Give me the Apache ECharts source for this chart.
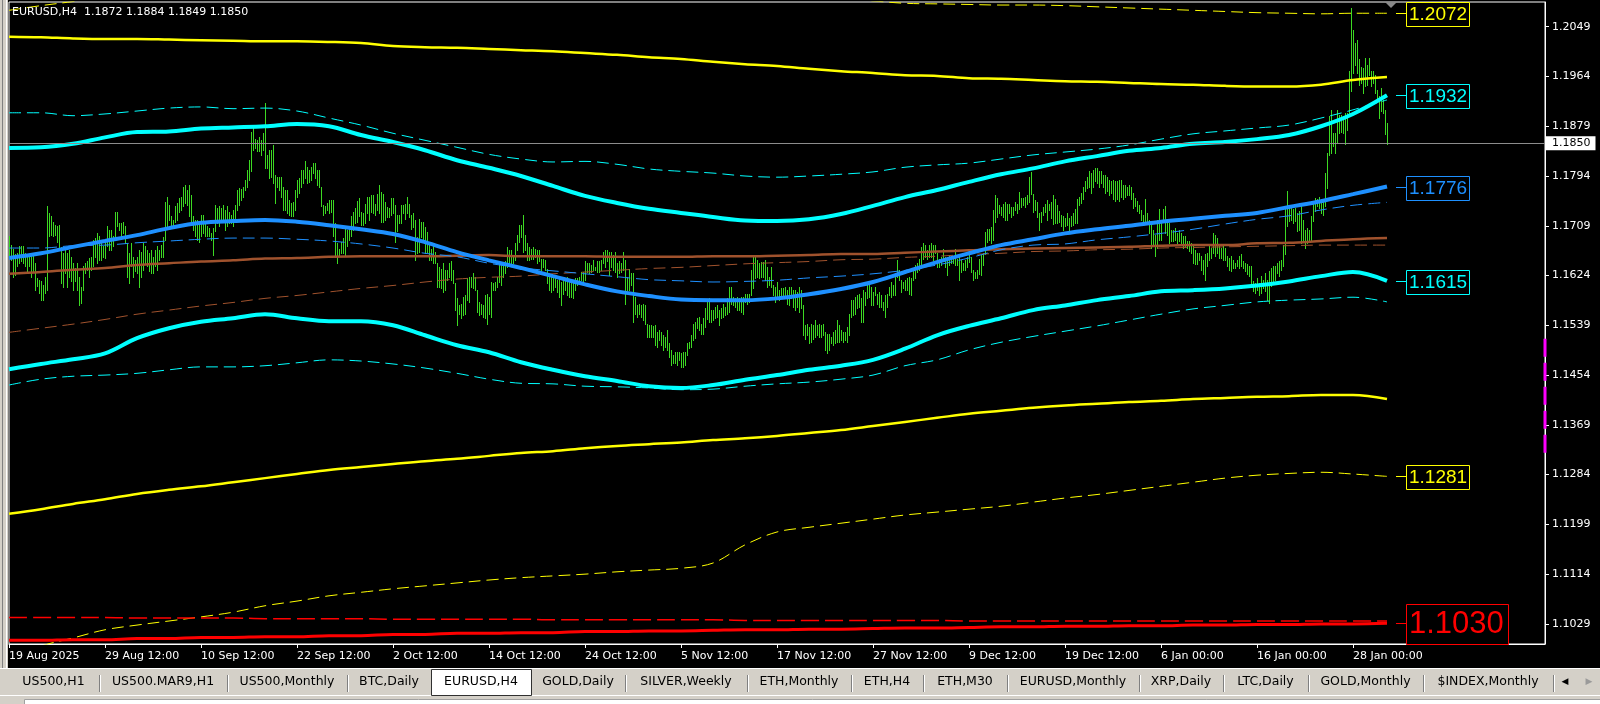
<!DOCTYPE html>
<html><head><meta charset="utf-8">
<script src="https://cdn.jsdelivr.net/npm/echarts@6.0.0/dist/echarts.min.js"></script>
<style>html,body{margin:0;padding:0;background:#000;overflow:hidden}#c{width:1600px;height:704px}</style>
</head><body><div id="c"></div>
<script>
// ---------------- DATA ----------------
const symbolName = 'EURUSD,H4';
const lastOHLC = [1.1872, 1.1884, 1.1849, 1.1850];
const xTickLabels = ['19 Aug 2025','29 Aug 12:00','10 Sep 12:00','22 Sep 12:00','2 Oct 12:00','14 Oct 12:00','24 Oct 12:00','5 Nov 12:00','17 Nov 12:00','27 Nov 12:00','9 Dec 12:00','19 Dec 12:00','6 Jan 00:00','16 Jan 00:00','28 Jan 00:00'];
const barsPerTick = 48;
const shiftBars = 79;
const yTickValues = [1.2049,1.1964,1.1879,1.1794,1.1709,1.1624,1.1539,1.1454,1.1369,1.1284,1.1199,1.1114,1.1029];
const yMin = 1.09947, yMax = 1.20912;

const barHigh = [
1.1692,1.1676,1.1670,1.1660,1.1662,1.1674,1.1674,1.1674,1.1662,1.1656,
1.1660,1.1662,1.1662,1.1645,1.1620,1.1617,1.1614,1.1608,1.1622,1.1743,
1.1730,1.1725,1.1716,1.1710,1.1708,1.1711,1.1672,1.1662,1.1668,1.1662,
1.1668,1.1656,1.1645,1.1637,1.1645,1.1622,1.1605,1.1640,1.1645,1.1648,
1.1654,1.1656,1.1685,1.1688,1.1696,1.1691,1.1679,1.1674,1.1682,1.1708,
1.1702,1.1702,1.1691,1.1733,1.1733,1.1713,1.1713,1.1716,1.1708,1.1680,
1.1662,1.1679,1.1656,1.1651,1.1656,1.1668,1.1665,1.1679,1.1674,1.1668,
1.1662,1.1668,1.1656,1.1668,1.1674,1.1668,1.1676,1.1690,1.1750,1.1758,
1.1745,1.1725,1.1719,1.1742,1.1748,1.1756,1.1759,1.1776,1.1779,1.1770,
1.1779,1.1762,1.1725,1.1719,1.1719,1.1713,1.1728,1.1728,1.1713,1.1708,
1.1705,1.1696,1.1705,1.1745,1.1739,1.1742,1.1739,1.1745,1.1736,1.1742,
1.1733,1.1728,1.1736,1.1745,1.1770,1.1773,1.1771,1.1776,1.1787,1.1804,
1.1821,1.1870,1.1876,1.1858,1.1856,1.1861,1.1856,1.1867,1.1919,1.1830,
1.1839,1.1839,1.1847,1.1796,1.1793,1.1793,1.1793,1.1776,1.1770,1.1770,
1.1753,1.1748,1.1750,1.1770,1.1787,1.1790,1.1804,1.1804,1.1819,1.1810,
1.1804,1.1810,1.1816,1.1817,1.1804,1.1804,1.1776,1.1745,1.1742,1.1748,
1.1753,1.1753,1.1753,1.1713,1.1679,1.1670,1.1682,1.1688,1.1705,1.1702,
1.1708,1.1725,1.1733,1.1740,1.1752,1.1756,1.1733,1.1730,1.1747,1.1758,
1.1758,1.1761,1.1761,1.1747,1.1764,1.1778,1.1767,1.1764,1.1750,1.1741,
1.1739,1.1756,1.1756,1.1744,1.1727,1.1727,1.1744,1.1744,1.1747,1.1758,
1.1747,1.1727,1.1730,1.1719,1.1690,1.1721,1.1716,1.1716,1.1707,1.1699,
1.1682,1.1670,1.1676,1.1665,1.1645,1.1639,1.1636,1.1645,1.1633,1.1633,
1.1645,1.1648,1.1633,1.1611,1.1585,1.1574,1.1576,1.1588,1.1591,1.1619,
1.1622,1.1622,1.1628,1.1622,1.1599,1.1579,1.1576,1.1574,1.1591,1.1593,
1.1588,1.1613,1.1611,1.1613,1.1622,1.1645,1.1642,1.1645,1.1648,1.1673,
1.1667,1.1667,1.1659,1.1679,1.1693,1.1710,1.1710,1.1727,1.1693,1.1679,
1.1673,1.1670,1.1673,1.1670,1.1667,1.1667,1.1653,1.1653,1.1650,1.1636,
1.1628,1.1622,1.1625,1.1619,1.1616,1.1622,1.1613,1.1622,1.1616,1.1622,
1.1616,1.1613,1.1611,1.1619,1.1619,1.1622,1.1630,1.1630,1.1648,1.1645,
1.1645,1.1642,1.1650,1.1639,1.1648,1.1648,1.1650,1.1665,1.1667,1.1667,
1.1665,1.1665,1.1659,1.1665,1.1645,1.1648,1.1645,1.1665,1.1650,1.1622,
1.1636,1.1628,1.1628,1.1588,1.1574,1.1576,1.1574,1.1576,1.1574,1.1542,
1.1539,1.1539,1.1537,1.1539,1.1528,1.1531,1.1528,1.1522,1.1519,1.1531,
1.1508,1.1497,1.1488,1.1494,1.1494,1.1494,1.1491,1.1494,1.1494,1.1508,
1.1511,1.1522,1.1542,1.1545,1.1551,1.1554,1.1542,1.1551,1.1568,1.1582,
1.1585,1.1565,1.1565,1.1571,1.1573,1.1565,1.1568,1.1576,1.1571,1.1585,
1.1605,1.1605,1.1588,1.1585,1.1588,1.1585,1.1588,1.1588,1.1593,1.1593,
1.1593,1.1633,1.1656,1.1656,1.1650,1.1645,1.1647,1.1647,1.1650,1.1639,
1.1622,1.1639,1.1608,1.1605,1.1613,1.1599,1.1602,1.1602,1.1605,1.1599,
1.1605,1.1605,1.1599,1.1599,1.1596,1.1605,1.1599,1.1573,1.1539,1.1542,
1.1536,1.1542,1.1539,1.1548,1.1539,1.1542,1.1539,1.1542,1.1528,1.1525,
1.1525,1.1519,1.1528,1.1531,1.1548,1.1539,1.1531,1.1528,1.1528,1.1536,
1.1559,1.1582,1.1582,1.1588,1.1590,1.1593,1.1585,1.1599,1.1596,1.1610,
1.1613,1.1605,1.1596,1.1605,1.1593,1.1596,1.1590,1.1579,1.1590,1.1593,
1.1605,1.1613,1.1608,1.1622,1.1650,1.1633,1.1616,1.1613,1.1616,1.1619,
1.1622,1.1619,1.1633,1.1642,1.1645,1.1653,1.1673,1.1679,1.1676,1.1667,
1.1676,1.1679,1.1676,1.1676,1.1662,1.1653,1.1656,1.1670,1.1656,1.1656,
1.1659,1.1656,1.1653,1.1670,1.1653,1.1659,1.1650,1.1645,1.1650,1.1656,
1.1667,1.1656,1.1633,1.1630,1.1633,1.1653,1.1659,1.1662,1.1699,1.1704,
1.1704,1.1707,1.1736,1.1761,1.1756,1.1744,1.1741,1.1747,1.1750,1.1747,
1.1747,1.1741,1.1741,1.1750,1.1747,1.1767,1.1756,1.1756,1.1758,1.1761,
1.1792,1.1801,1.1764,1.1753,1.1750,1.1730,1.1733,1.1741,1.1747,1.1753,
1.1747,1.1750,1.1761,1.1755,1.1745,1.1735,1.1728,1.1725,1.1722,1.1731,
1.1722,1.1725,1.1731,1.1737,1.1754,1.1759,1.1765,1.1776,1.1785,1.1793,
1.1802,1.1799,1.1805,1.1808,1.1808,1.1802,1.1802,1.1796,1.1796,1.1793,
1.1788,1.1785,1.1788,1.1785,1.1785,1.1788,1.1788,1.1779,1.1779,1.1776,
1.1779,1.1776,1.1765,1.1756,1.1751,1.1745,1.1736,1.1728,1.1754,1.1731,
1.1719,1.1717,1.1702,1.1694,1.1719,1.1737,1.1719,1.1737,1.1742,1.1717,
1.1714,1.1702,1.1702,1.1705,1.1697,1.1702,1.1697,1.1691,1.1691,1.1683,
1.1683,1.1680,1.1674,1.1668,1.1663,1.1663,1.1657,1.1651,1.1660,1.1663,
1.1674,1.1671,1.1697,1.1694,1.1688,1.1674,1.1671,1.1674,1.1671,1.1657,
1.1654,1.1657,1.1651,1.1646,1.1651,1.1657,1.1660,1.1649,1.1646,1.1643,
1.1640,1.1640,1.1614,1.1611,1.1620,1.1611,1.1623,1.1617,1.1628,1.1617,
1.1631,1.1637,1.1640,1.1640,1.1646,1.1649,1.1651,1.1677,1.1737,1.1768,
1.1742,1.1739,1.1737,1.1739,1.1731,1.1734,1.1745,1.1719,1.1702,1.1705,
1.1702,1.1725,1.1751,1.1756,1.1754,1.1759,1.1754,1.1751,1.1799,1.1833,
1.1896,1.1907,1.1867,1.1867,1.1907,1.1899,1.1899,1.1896,1.1902,1.1902,
1.1973,1.2081,1.2044,1.2021,1.2027,1.1993,1.1981,1.1978,1.1995,1.1984,
1.1995,1.1973,1.1973,1.1967,1.1941,1.1930,1.1944,1.1924,1.1907,1.1884];

const barLow = [
1.1654,1.1651,1.1622,1.1625,1.1640,1.1645,1.1648,1.1645,1.1640,1.1631,
1.1640,1.1622,1.1631,1.1600,1.1606,1.1594,1.1583,1.1583,1.1594,1.1600,
1.1691,1.1693,1.1691,1.1693,1.1682,1.1670,1.1611,1.1605,1.1628,1.1605,
1.1622,1.1614,1.1600,1.1614,1.1600,1.1574,1.1577,1.1600,1.1628,1.1634,
1.1622,1.1634,1.1640,1.1656,1.1645,1.1651,1.1651,1.1656,1.1654,1.1674,
1.1668,1.1668,1.1674,1.1690,1.1708,1.1702,1.1691,1.1696,1.1680,1.1622,
1.1611,1.1640,1.1622,1.1631,1.1628,1.1605,1.1622,1.1634,1.1645,1.1640,
1.1631,1.1628,1.1628,1.1640,1.1634,1.1651,1.1656,1.1656,1.1685,1.1708,
1.1719,1.1711,1.1708,1.1716,1.1719,1.1733,1.1736,1.1742,1.1748,1.1745,
1.1725,1.1713,1.1702,1.1691,1.1685,1.1682,1.1691,1.1696,1.1691,1.1691,
1.1691,1.1685,1.1659,1.1700,1.1713,1.1708,1.1716,1.1719,1.1702,1.1708,
1.1713,1.1713,1.1708,1.1716,1.1736,1.1745,1.1753,1.1759,1.1770,1.1776,
1.1787,1.1802,1.1839,1.1841,1.1836,1.1836,1.1830,1.1839,1.1807,1.1807,
1.1790,1.1793,1.1782,1.1748,1.1776,1.1770,1.1759,1.1736,1.1736,1.1730,
1.1728,1.1725,1.1725,1.1736,1.1759,1.1765,1.1776,1.1782,1.1790,1.1782,
1.1784,1.1787,1.1799,1.1790,1.1779,1.1776,1.1742,1.1728,1.1730,1.1736,
1.1730,1.1733,1.1691,1.1656,1.1645,1.1659,1.1662,1.1662,1.1659,1.1674,
1.1685,1.1691,1.1702,1.1713,1.1715,1.1725,1.1710,1.1710,1.1713,1.1730,
1.1719,1.1733,1.1730,1.1727,1.1736,1.1730,1.1716,1.1716,1.1719,1.1724,
1.1724,1.1727,1.1730,1.1682,1.1700,1.1713,1.1713,1.1730,1.1721,1.1730,
1.1724,1.1704,1.1707,1.1650,1.1662,1.1665,1.1690,1.1685,1.1662,1.1665,
1.1650,1.1650,1.1645,1.1645,1.1605,1.1605,1.1602,1.1596,1.1599,1.1616,
1.1622,1.1616,1.1611,1.1565,1.1539,1.1559,1.1551,1.1556,1.1559,1.1582,
1.1579,1.1605,1.1602,1.1599,1.1562,1.1556,1.1559,1.1554,1.1551,1.1542,
1.1559,1.1554,1.1599,1.1599,1.1605,1.1613,1.1608,1.1622,1.1628,1.1639,
1.1645,1.1642,1.1645,1.1650,1.1667,1.1682,1.1690,1.1665,1.1667,1.1650,
1.1650,1.1653,1.1653,1.1656,1.1645,1.1648,1.1633,1.1639,1.1633,1.1611,
1.1599,1.1596,1.1599,1.1605,1.1596,1.1588,1.1574,1.1593,1.1599,1.1591,
1.1588,1.1588,1.1585,1.1599,1.1608,1.1611,1.1616,1.1608,1.1616,1.1630,
1.1628,1.1630,1.1633,1.1633,1.1630,1.1630,1.1633,1.1645,1.1639,1.1648,
1.1625,1.1639,1.1633,1.1630,1.1622,1.1628,1.1630,1.1633,1.1576,1.1599,
1.1599,1.1608,1.1545,1.1559,1.1554,1.1559,1.1554,1.1548,1.1542,1.1519,
1.1519,1.1519,1.1519,1.1505,1.1502,1.1514,1.1505,1.1497,1.1502,1.1497,
1.1485,1.1471,1.1474,1.1474,1.1471,1.1480,1.1468,1.1468,1.1471,1.1488,
1.1500,1.1502,1.1514,1.1517,1.1534,1.1531,1.1525,1.1525,1.1536,1.1550,
1.1545,1.1545,1.1548,1.1551,1.1554,1.1539,1.1551,1.1554,1.1556,1.1559,
1.1562,1.1576,1.1573,1.1571,1.1565,1.1565,1.1562,1.1559,1.1579,1.1576,
1.1579,1.1590,1.1602,1.1619,1.1622,1.1619,1.1622,1.1622,1.1616,1.1605,
1.1608,1.1605,1.1590,1.1579,1.1588,1.1582,1.1585,1.1588,1.1585,1.1576,
1.1573,1.1585,1.1571,1.1565,1.1571,1.1562,1.1568,1.1522,1.1516,1.1522,
1.1508,1.1511,1.1516,1.1519,1.1522,1.1519,1.1519,1.1522,1.1497,1.1491,
1.1497,1.1508,1.1505,1.1508,1.1511,1.1511,1.1514,1.1511,1.1514,1.1511,
1.1522,1.1554,1.1556,1.1559,1.1568,1.1571,1.1545,1.1545,1.1573,1.1585,
1.1588,1.1573,1.1573,1.1590,1.1576,1.1571,1.1571,1.1565,1.1554,1.1571,
1.1590,1.1588,1.1590,1.1590,1.1622,1.1616,1.1596,1.1602,1.1599,1.1599,
1.1593,1.1590,1.1616,1.1619,1.1630,1.1633,1.1642,1.1653,1.1656,1.1653,
1.1656,1.1656,1.1650,1.1662,1.1639,1.1639,1.1642,1.1650,1.1639,1.1625,
1.1642,1.1645,1.1645,1.1642,1.1642,1.1616,1.1630,1.1633,1.1633,1.1639,
1.1647,1.1630,1.1616,1.1619,1.1619,1.1627,1.1625,1.1642,1.1660,1.1682,
1.1684,1.1679,1.1684,1.1716,1.1724,1.1730,1.1727,1.1724,1.1719,1.1719,
1.1730,1.1724,1.1727,1.1736,1.1730,1.1738,1.1741,1.1744,1.1741,1.1747,
1.1750,1.1764,1.1733,1.1736,1.1724,1.1701,1.1716,1.1727,1.1733,1.1719,
1.1736,1.1722,1.1712,1.1713,1.1713,1.1715,1.1708,1.1702,1.1708,1.1711,
1.1702,1.1708,1.1711,1.1714,1.1714,1.1745,1.1748,1.1754,1.1768,1.1773,
1.1776,1.1765,1.1776,1.1785,1.1782,1.1776,1.1782,1.1776,1.1765,1.1768,
1.1762,1.1765,1.1754,1.1751,1.1754,1.1751,1.1759,1.1754,1.1759,1.1762,
1.1762,1.1754,1.1739,1.1742,1.1734,1.1731,1.1719,1.1714,1.1717,1.1714,
1.1697,1.1671,1.1677,1.1657,1.1671,1.1685,1.1685,1.1717,1.1697,1.1694,
1.1680,1.1683,1.1683,1.1685,1.1680,1.1683,1.1677,1.1671,1.1674,1.1671,
1.1666,1.1663,1.1646,1.1643,1.1643,1.1651,1.1634,1.1626,1.1617,1.1640,
1.1651,1.1654,1.1663,1.1657,1.1663,1.1654,1.1654,1.1651,1.1651,1.1640,
1.1634,1.1631,1.1637,1.1637,1.1640,1.1637,1.1640,1.1637,1.1631,1.1626,
1.1623,1.1606,1.1597,1.1594,1.1600,1.1591,1.1594,1.1603,1.1597,1.1583,
1.1577,1.1606,1.1611,1.1617,1.1628,1.1623,1.1634,1.1640,1.1660,1.1708,
1.1717,1.1719,1.1714,1.1717,1.1700,1.1702,1.1680,1.1683,1.1671,1.1680,
1.1685,1.1685,1.1717,1.1734,1.1742,1.1739,1.1731,1.1728,1.1742,1.1774,
1.1830,1.1833,1.1845,1.1833,1.1850,1.1867,1.1870,1.1867,1.1848,1.1873,
1.1896,1.1939,1.1970,1.1984,1.1970,1.1950,1.1953,1.1936,1.1947,1.1950,
1.1967,1.1947,1.1953,1.1936,1.1924,1.1893,1.1905,1.1902,1.1865,1.1849];

// indicator lines, sampled at these bar indices
const lineIdx = [0,16,32,48,64,80,96,112,128,144,160,176,192,208,224,240,256,272,288,304,320,336,352,368,384,400,416,432,448,464,480,496,512,528,544,560,576,592,608,624,640,656,672,689];
const yellowDashTop = [1.2077,1.2085,1.2092,1.2100,1.2105,1.2110,1.2113,1.2116,1.2118,1.2120,1.2121,1.2122,1.2122,1.2121,1.2120,1.2119,1.2117,1.2115,1.2113,1.2111,1.2109,1.2107,1.2105,1.2103,1.2101,1.2099,1.2097,1.2093,1.2089,1.2088,1.2087,1.2086,1.2086,1.2085,1.2083,1.2081,1.2079,1.2077,1.2075,1.2073,1.2072,1.2071,1.2072,1.2072];
const yellowThickUp = [1.2032,1.2031,1.2029,1.2028,1.2028,1.2027,1.2026,1.2025,1.2024,1.2024,1.2023,1.2021,1.2016,1.2014,1.2013,1.2011,1.2009,1.2007,1.2004,1.2001,1.1997,1.1994,1.1989,1.1985,1.1982,1.1977,1.1973,1.1970,1.1966,1.1965,1.1961,1.1960,1.1958,1.1956,1.1955,1.1953,1.1951,1.1950,1.1948,1.1947,1.1947,1.1950,1.1958,1.1963];
const cyanDashUp = [1.1902,1.1902,1.1897,1.1900,1.1905,1.1910,1.1912,1.1909,1.1910,1.1905,1.1893,1.1881,1.1867,1.1855,1.1843,1.1831,1.1823,1.1818,1.1819,1.1814,1.1806,1.1802,1.1799,1.1794,1.1792,1.1794,1.1797,1.1801,1.1809,1.1813,1.1816,1.1823,1.1830,1.1835,1.1840,1.1847,1.1857,1.1866,1.1871,1.1876,1.1881,1.1893,1.1907,1.1924];
const cyanThickUp = [1.1842,1.1843,1.1849,1.1860,1.1869,1.1870,1.1875,1.1877,1.1879,1.1883,1.1879,1.1864,1.1852,1.1838,1.1821,1.1808,1.1794,1.1777,1.1760,1.1748,1.1738,1.1731,1.1724,1.1718,1.1717,1.1720,1.1729,1.1743,1.1758,1.1770,1.1784,1.1797,1.1807,1.1819,1.1828,1.1837,1.1842,1.1849,1.1852,1.1857,1.1864,1.1879,1.1900,1.1932];
const blueThick = [1.1654,1.1662,1.1673,1.1683,1.1693,1.1705,1.1714,1.1717,1.1719,1.1716,1.1710,1.1703,1.1695,1.1681,1.1664,1.1650,1.1637,1.1623,1.1609,1.1597,1.1589,1.1583,1.1582,1.1582,1.1585,1.1592,1.1601,1.1613,1.1630,1.1647,1.1662,1.1676,1.1686,1.1696,1.1703,1.1709,1.1716,1.1721,1.1726,1.1731,1.1741,1.1751,1.1763,1.1776];
const blueDash = [1.1671,1.1671,1.1675,1.1676,1.1680,1.1683,1.1686,1.1688,1.1688,1.1686,1.1683,1.1678,1.1671,1.1662,1.1656,1.1645,1.1637,1.1632,1.1627,1.1622,1.1617,1.1615,1.1613,1.1614,1.1616,1.1620,1.1623,1.1627,1.1633,1.1642,1.1654,1.1668,1.1676,1.1678,1.1685,1.1690,1.1696,1.1703,1.1712,1.1720,1.1726,1.1736,1.1744,1.1749];
const brownThick = [1.1627,1.1630,1.1634,1.1637,1.1642,1.1645,1.1648,1.1650,1.1653,1.1654,1.1656,1.1657,1.1657,1.1657,1.1658,1.1659,1.1657,1.1657,1.1657,1.1656,1.1656,1.1656,1.1657,1.1657,1.1658,1.1659,1.1661,1.1661,1.1663,1.1665,1.1667,1.1669,1.1670,1.1671,1.1672,1.1673,1.1675,1.1676,1.1676,1.1679,1.1680,1.1683,1.1686,1.1688];
const brownDash = [1.1527,1.1534,1.1541,1.1549,1.1558,1.1565,1.1572,1.1578,1.1585,1.1590,1.1596,1.1602,1.1607,1.1613,1.1618,1.1621,1.1623,1.1627,1.1630,1.1633,1.1636,1.1638,1.1641,1.1644,1.1646,1.1648,1.1651,1.1652,1.1655,1.1657,1.1660,1.1662,1.1665,1.1666,1.1668,1.1669,1.1671,1.1672,1.1673,1.1674,1.1675,1.1676,1.1676,1.1676];
const cyanThickLow = [1.1464,1.1473,1.1481,1.1491,1.1517,1.1534,1.1545,1.1551,1.1558,1.1551,1.1546,1.1546,1.1539,1.1522,1.1505,1.1493,1.1476,1.1463,1.1452,1.1444,1.1435,1.1432,1.1437,1.1446,1.1454,1.1463,1.1470,1.1480,1.1499,1.1522,1.1538,1.1551,1.1565,1.1573,1.1582,1.1589,1.1597,1.1599,1.1602,1.1607,1.1614,1.1623,1.1630,1.1615];
const cyanDashLow = [1.1437,1.1447,1.1452,1.1454,1.1457,1.1463,1.1468,1.1468,1.1470,1.1475,1.1480,1.1478,1.1473,1.1466,1.1457,1.1447,1.1440,1.1439,1.1435,1.1434,1.1432,1.1429,1.1430,1.1435,1.1439,1.1442,1.1447,1.1454,1.1470,1.1480,1.1497,1.1510,1.1520,1.1529,1.1538,1.1548,1.1558,1.1567,1.1573,1.1579,1.1582,1.1584,1.1587,1.1579];
const yellowThickLow = [1.1217,1.1225,1.1234,1.1242,1.1251,1.1258,1.1264,1.1271,1.1278,1.1285,1.1292,1.1297,1.1302,1.1307,1.1311,1.1316,1.1321,1.1324,1.1329,1.1333,1.1336,1.1339,1.1343,1.1346,1.1350,1.1355,1.1360,1.1367,1.1374,1.1381,1.1388,1.1393,1.1398,1.1402,1.1405,1.1408,1.1410,1.1413,1.1415,1.1417,1.1418,1.1420,1.1420,1.1413];
const yellowDashLow = [1.0967,1.0991,1.1005,1.1019,1.1027,1.1034,1.1041,1.1049,1.1060,1.1068,1.1077,1.1083,1.1089,1.1094,1.1099,1.1104,1.1108,1.1111,1.1114,1.1118,1.1121,1.1124,1.1133,1.1164,1.1186,1.1194,1.1201,1.1208,1.1215,1.1220,1.1225,1.1230,1.1237,1.1244,1.1250,1.1257,1.1264,1.1271,1.1278,1.1283,1.1286,1.1288,1.1285,1.1281];
const redDash = [1.1040,1.1040,1.1040,1.1040,1.1039,1.1039,1.1039,1.1039,1.1038,1.1038,1.1038,1.1038,1.1037,1.1037,1.1037,1.1037,1.1037,1.1036,1.1036,1.1036,1.1036,1.1036,1.1036,1.1035,1.1035,1.1035,1.1035,1.1035,1.1035,1.1035,1.1034,1.1034,1.1034,1.1034,1.1034,1.1034,1.1034,1.1034,1.1034,1.1034,1.1034,1.1034,1.1034,1.1034];
const redThick = [1.1001,1.1001,1.1002,1.1002,1.1004,1.1004,1.1006,1.1006,1.1007,1.1007,1.1009,1.1009,1.1011,1.1011,1.1013,1.1013,1.1014,1.1014,1.1016,1.1016,1.1017,1.1017,1.1018,1.1019,1.1019,1.1020,1.1020,1.1021,1.1022,1.1022,1.1023,1.1024,1.1024,1.1025,1.1025,1.1026,1.1026,1.1027,1.1027,1.1028,1.1028,1.1029,1.1029,1.1030];
const magentaRange = [1.1516, 1.1321];

const tabLabels = ['US500,H1','US500.MAR9,H1','US500,Monthly','BTC,Daily','EURUSD,H4','GOLD,Daily','SILVER,Weekly','ETH,Monthly','ETH,H4','ETH,M30','EURUSD,Monthly','XRP,Daily','LTC,Daily','GOLD,Monthly','$INDEX,Monthly'];
const activeTab = 'EURUSD,H4';

// ---------------- LAYOUT / STYLE ----------------
const tabEdges = [8,99,227,347,431,531,625,747,851,923,1007,1139,1223,1308,1423,1553];
const FONT = '"DejaVu Sans", sans-serif';
const TAGFONT = '"Liberation Sans", Arial, sans-serif';
const BAR_COLOR = '#3cd822';

const nBars = Math.min(barHigh.length, barLow.length);
const lastIdx = nBars - 1;
const categories = [];
for (let i = 0; i < nBars + shiftBars; i++) categories.push(String(i));
const isTick = (i) => i % barsPerTick === 0 && (i / barsPerTick) < xTickLabels.length;

const chart = echarts.init(document.getElementById('c'), null, {renderer: 'canvas'});

function lineSeries(name, vals, color, width, dashed) {
  return {
    type: 'line', name, data: lineIdx.map((ix, k) => [ix, vals[k]]),
    showSymbol: false, symbol: 'none', smooth: 0.35, z: 3, silent: true,
    lineStyle: {color, width, type: dashed ? [12, 6] : 'solid'}
  };
}

const series = [
  {
    type: 'custom', name: 'bars', z: 2, silent: true,
    data: barHigh.slice(0, nBars).map((h, i) => [i, h, barLow[i]]),
    encode: {x: 0, y: [1, 2]},
    renderItem: (params, api) => {
      const i = api.value(0);
      const a = api.coord([i, api.value(1)]);
      const b = api.coord([i, api.value(2)]);
      const x = Math.round(a[0]) + 0.5;
      return {type: 'line', shape: {x1: x, y1: Math.round(a[1]), x2: x, y2: Math.round(b[1]) + 1},
              style: {stroke: BAR_COLOR, lineWidth: 1}};
    }
  },
  lineSeries('yellowDashTop', yellowDashTop, '#ffff00', 1, true),
  lineSeries('yellowThickUp', yellowThickUp, '#ffff00', 2.5, false),
  lineSeries('cyanDashUp', cyanDashUp, '#00ffff', 1, true),
  lineSeries('cyanThickUp', cyanThickUp, '#00ffff', 4, false),
  lineSeries('brownDash', brownDash, '#a0522d', 1, true),
  lineSeries('brownThick', brownThick, '#a0522d', 2.5, false),
  lineSeries('blueDash', blueDash, '#1e90ff', 1, true),
  lineSeries('blueThick', blueThick, '#1e90ff', 4, false),
  lineSeries('cyanDashLow', cyanDashLow, '#00ffff', 1, true),
  lineSeries('cyanThickLow', cyanThickLow, '#00ffff', 4, false),
  lineSeries('yellowThickLow', yellowThickLow, '#ffff00', 2.5, false),
  lineSeries('yellowDashLow', yellowDashLow, '#ffff00', 1, true),
  Object.assign(lineSeries('redDash', redDash, '#ff0000', 2, false), {lineStyle: {color: '#ff0000', width: 1.5, type: [18, 6]}}),
  Object.assign(lineSeries('redThick', redThick, '#ff0000', 3, false), {
    markLine: {
      silent: true, symbol: 'none', animation: false, precision: 4,
      data: [{yAxis: lastOHLC[3]}],
      lineStyle: {color: '#8c8c8c', width: 1, type: 'solid'},
      label: {show: true, position: 'end', formatter: lastOHLC[3].toFixed(4), color: '#000',
              backgroundColor: '#fff', padding: [2, 5, 1, 6], fontFamily: FONT, fontSize: 11, distance: 1}
    }
  }),
  {
    type: 'line', name: 'range', data: [[nBars + shiftBars - 1, magentaRange[0]], [nBars + shiftBars - 1, magentaRange[1]]],
    showSymbol: false, symbol: 'none', clip: false, z: 5, silent: true,
    lineStyle: {color: '#ff00ff', width: 3, type: [18, 6]}
  }
];

chart.setOption({
  backgroundColor: '#000',
  animation: false,
  grid: {left: 9, right: 55, top: 2, bottom: 60, show: true, borderColor: '#ffffff', borderWidth: 1, backgroundColor: 'transparent'},
  xAxis: {
    type: 'category', data: categories, boundaryGap: false,
    axisLine: {show: true, lineStyle: {color: '#fff'}},
    axisTick: {show: true, length: 4, interval: isTick, lineStyle: {color: '#fff'}},
    axisLabel: {interval: isTick, formatter: (v, i) => xTickLabels[Math.round(i / barsPerTick)] || '',
                color: '#fff', fontFamily: FONT, fontSize: 11, align: 'left', margin: 7},
    splitLine: {show: false}
  },
  yAxis: {
    type: 'value', position: 'right', min: yMin, max: yMax,
    axisLine: {show: true, lineStyle: {color: '#fff'}},
    axisTick: {show: true, length: 4, customValues: yTickValues, lineStyle: {color: '#fff'}},
    axisLabel: {customValues: yTickValues, formatter: v => v.toFixed(4), color: '#fff', fontFamily: FONT, fontSize: 11, margin: 7},
    splitLine: {show: false}
  },
  series
});

// ---------------- GRAPHICS (tags, chrome) ----------------
const g = [];
g.push({type: 'rect', shape: {x: 0, y: 0, width: 8, height: 668}, style: {fill: '#d4d0c8'}, z: 50});
g.push({type: 'line', shape: {x1: 2.5, y1: 0, x2: 2.5, y2: 668}, style: {stroke: '#808080', lineWidth: 1}, z: 51});
g.push({type: 'line', shape: {x1: 6.5, y1: 0, x2: 6.5, y2: 668}, style: {stroke: '#ffffff', lineWidth: 1}, z: 51});
g.push({type: 'text', x: 12, y: 12, z: 60, style: {text: symbolName + '  ' + lastOHLC.map(v => v.toFixed(4)).join(' '),
        fill: '#ffffff', font: '11px ' + FONT, verticalAlign: 'middle', align: 'left'}});

const tags = [
  {vals: yellowDashTop, color: '#ffff00', size: 19},
  {vals: cyanThickUp, color: '#00ffff', size: 19},
  {vals: blueThick, color: '#1e90ff', size: 19},
  {vals: cyanThickLow, color: '#00ffff', size: 19},
  {vals: yellowDashLow, color: '#ffff00', size: 19},
  {vals: redThick, color: '#ff0000', size: 31}
];
tags.forEach(t => {
  const v = t.vals[t.vals.length - 1];
  const p = chart.convertToPixel({gridIndex: 0}, [lastIdx, v]);
  const x0 = Math.round(p[0]);
  const y = Math.round(p[1]) + 0.5;
  const big = t.size > 20;
  const w = big ? 102 : 63, h = big ? 40 : 24;
  g.push({type: 'line', shape: {x1: x0 + 9, y1: y, x2: x0 + 19, y2: y}, style: {stroke: t.color, lineWidth: 1}, z: 60});
  g.push({type: 'rect', shape: {x: x0 + 19.5, y: Math.round(y - h / 2) + 0.5, width: w, height: h},
          style: {fill: '#000', stroke: t.color, lineWidth: 1}, z: 60});
  g.push({type: 'text', x: x0 + 22, y: y + 1, z: 61,
          style: {text: v.toFixed(4), fill: t.color, font: t.size + 'px ' + TAGFONT, verticalAlign: 'middle', align: 'left'}});
});
{
  const p = chart.convertToPixel({gridIndex: 0}, [lastIdx, yMax]);
  const cx = Math.round(p[0]) + 4;
  g.push({type: 'polygon', shape: {points: [[cx - 6, 2], [cx + 6, 2], [cx, 8]]}, style: {fill: '#8a8a8a'}, z: 60});
}
g.push({type: 'rect', shape: {x: 0, y: 668, width: 1600, height: 36}, style: {fill: '#d4d0c8'}, z: 50});
g.push({type: 'line', shape: {x1: 0, y1: 668.5, x2: 1600, y2: 668.5}, style: {stroke: '#ffffff', lineWidth: 1}, z: 51});
g.push({type: 'line', shape: {x1: 0, y1: 695.5, x2: 1600, y2: 695.5}, style: {stroke: '#ffffff', lineWidth: 1}, z: 51});
g.push({type: 'rect', shape: {x: 24.5, y: 699.5, width: 1580, height: 8}, style: {fill: '#ffffff', stroke: '#a0a0a0', lineWidth: 1}, z: 51});
tabLabels.forEach((lab, k) => {
  const xl = tabEdges[k], xr = tabEdges[k + 1];
  if (lab === activeTab) {
    g.push({type: 'rect', shape: {x: xl + 0.5, y: 669.5, width: xr - xl, height: 26}, style: {fill: '#ffffff', stroke: '#303030', lineWidth: 1}, z: 52});
  } else {
    g.push({type: 'line', shape: {x1: xr + 0.5, y1: 675, x2: xr + 0.5, y2: 692}, style: {stroke: '#808080', lineWidth: 1}, z: 52});
    g.push({type: 'line', shape: {x1: xr + 1.5, y1: 675, x2: xr + 1.5, y2: 692}, style: {stroke: '#ffffff', lineWidth: 1}, z: 52});
  }
  g.push({type: 'text', x: (xl + xr) / 2, y: 682, z: 53,
          style: {text: lab, fill: '#000', font: '12.5px ' + FONT, align: 'center', verticalAlign: 'middle'}});
});
g.push({type: 'text', x: 1565, y: 682, z: 53, style: {text: '◀', fill: '#000', font: '9px ' + FONT, align: 'center', verticalAlign: 'middle'}});
g.push({type: 'text', x: 1589, y: 682, z: 53, style: {text: '▶', fill: '#9a9a9a', font: '9px ' + FONT, align: 'center', verticalAlign: 'middle'}});

chart.setOption({graphic: {elements: g}});
</script>
</body></html>
